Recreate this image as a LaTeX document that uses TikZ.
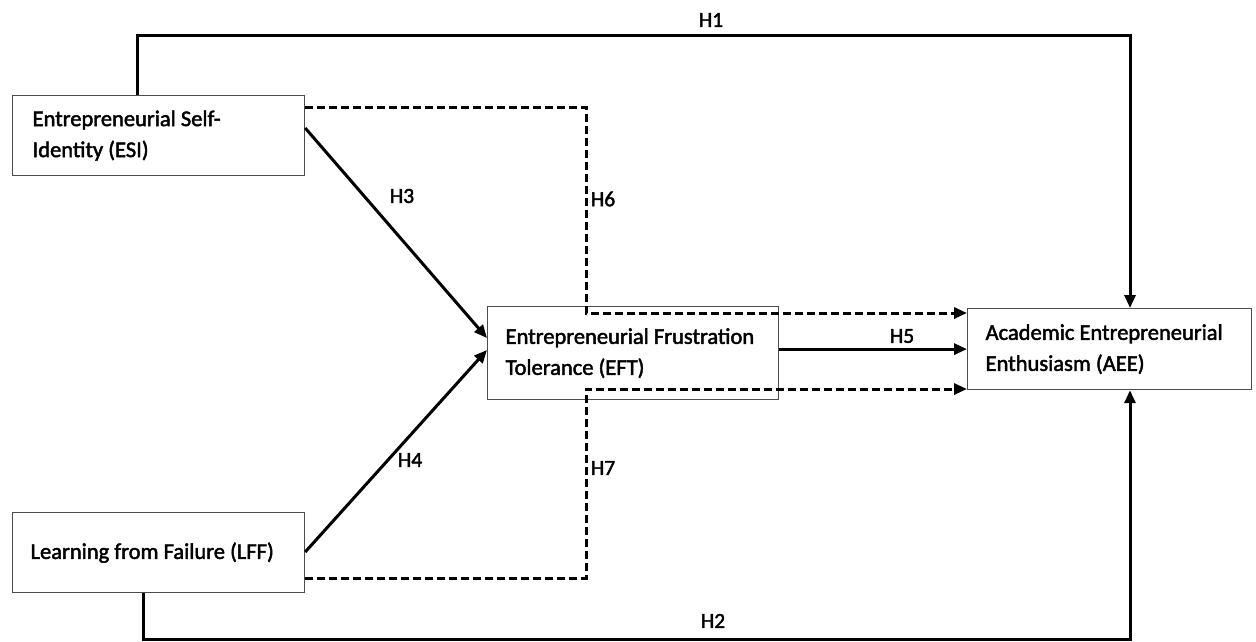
\documentclass[tikz,border=0pt]{standalone}
\usepackage{fontspec}
\setmainfont{Carlito}[RawFeature={embolden=2}]
\usetikzlibrary{arrows.meta,calc}
\begin{document}
\begin{tikzpicture}[x=1pt,y=-1pt,
  box/.style={draw=black!70, line width=1.2pt, fill=white, anchor=north west,
    inner ysep=0pt, align=flush left, font=\fontsize{22.5}{31}\selectfont},
  link/.style={line width=3pt, -{Triangle[length=13pt,width=11pt]}},
  dlink/.style={link, dash pattern=on 8pt off 4pt},
  hyp/.style={font=\fontsize{21.5}{25}\selectfont, inner sep=0pt}]
\useasboundingbox (0,0) rectangle (1256,641);

% constructs
\node[box, inner xsep=20pt, text width=252pt, minimum width=292pt, minimum height=80pt]
  (esi) at (12,95) {Entrepreneurial Self-\\Identity (ESI)};
\node[box, inner xsep=18pt, text width=255pt, minimum width=291pt, minimum height=93pt]
  (eft) at (487,306) {Entrepreneurial Frustration\\Tolerance (EFT)};
\node[box, inner xsep=18pt, text width=248pt, minimum width=284pt, minimum height=81pt]
  (aee) at (967,308) {Academic Entrepreneurial\\Enthusiasm (AEE)};
\node[box, inner xsep=18pt, text width=256pt, minimum width=292pt, minimum height=80pt]
  (lff) at (12,512) {Learning from Failure (LFF)};

% routing points
\coordinate (top) at (600,35);
\coordinate (bot) at (600,639);
\coordinate (m6) at (586,313);
\coordinate (m7) at (586,389);

% direct effects
\draw[link] ([xshift=125pt]esi.north west) |- (top) -| ([xshift=163pt]aee.north west);
\draw[link] ([xshift=131pt]lff.south west) |- (bot) -| ([xshift=163pt]aee.south west);
\draw[link] ([yshift=-33pt]esi.north east) -- ([yshift=-32pt]eft.north west);
\draw[link] ([yshift=-40pt]lff.north east) -- ([yshift=-44pt]eft.north west);
\draw[link] (eft.east |- aee.west) -- (aee.west);

% mediated effects
\draw[dlink] ([yshift=-12pt]esi.north east) -| (m6) -- (aee.west |- m6);
\draw[dlink] ([yshift=15pt]lff.south east) -| (m7) -- (aee.west |- m7);

% hypothesis labels
\node[hyp] (h1) at (711,20) {H1};
\node[hyp] (h2) at (713,621) {H2};
\node[hyp] (h3) at (402,196) {H3};
\node[hyp] (h4) at (410,460) {H4};
\node[hyp] (h5) at (902,336) {H5};
\node[hyp] (h6) at (603,199) {H6};
\node[hyp] (h7) at (603,468) {H7};
\end{tikzpicture}
\end{document}
